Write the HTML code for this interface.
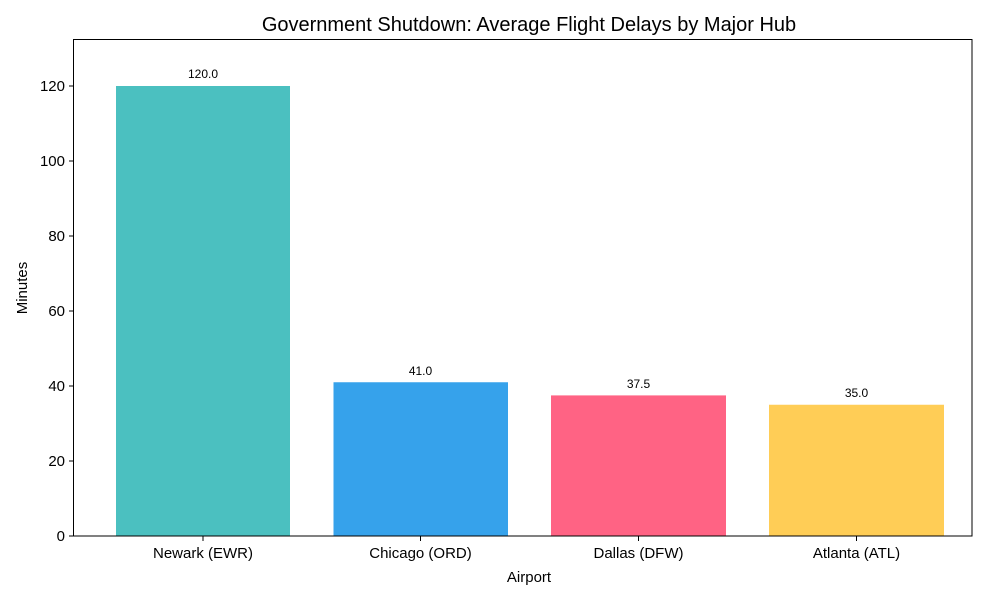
<!DOCTYPE html>
<html><head><meta charset="utf-8"><style>
body{margin:0;background:#fff;}
svg text{font-family:"Liberation Sans",sans-serif;fill:#000;}
</style></head><body>
<svg width="1000" height="600" xmlns="http://www.w3.org/2000/svg">
<rect width="1000" height="600" fill="#fff"/>
<text x="529" y="31" font-size="20" text-anchor="middle">Government Shutdown: Average Flight Delays by Major Hub</text>
<rect x="116" y="86" width="174" height="450" fill="#4BC0C0"/>
<rect x="333.5" y="382.25" width="174.5" height="153.75" fill="#36A2EB"/>
<rect x="551" y="395.4" width="175" height="140.6" fill="#FF6384"/>
<rect x="769" y="404.75" width="175" height="131.25" fill="#FFCD56"/>
<g font-size="12" text-anchor="middle">
<text x="203" y="78">120.0</text>
<text x="420.5" y="375">41.0</text>
<text x="638.5" y="388">37.5</text>
<text x="856.5" y="397">35.0</text>
</g>
<rect x="73.5" y="39.5" width="898.5" height="496.5" fill="none" stroke="#000" stroke-width="1"/>
<g stroke="#000" stroke-width="1">
<line x1="69" x2="73.5" y1="536" y2="536"/>
<line x1="69" x2="73.5" y1="461" y2="461"/>
<line x1="69" x2="73.5" y1="386" y2="386"/>
<line x1="69" x2="73.5" y1="311" y2="311"/>
<line x1="69" x2="73.5" y1="236" y2="236"/>
<line x1="69" x2="73.5" y1="161" y2="161"/>
<line x1="69" x2="73.5" y1="86" y2="86"/>
<line x1="203" x2="203" y1="536" y2="541"/>
<line x1="420.5" x2="420.5" y1="536" y2="541"/>
<line x1="638.5" x2="638.5" y1="536" y2="541"/>
<line x1="856.5" x2="856.5" y1="536" y2="541"/>
</g>
<g font-size="15" text-anchor="end">
<text x="65" y="541">0</text>
<text x="65" y="466">20</text>
<text x="65" y="391">40</text>
<text x="65" y="316">60</text>
<text x="65" y="241">80</text>
<text x="65" y="166">100</text>
<text x="65" y="91">120</text>
</g>
<g font-size="15" text-anchor="middle">
<text x="203" y="558">Newark (EWR)</text>
<text x="420.5" y="558">Chicago (ORD)</text>
<text x="638.5" y="558">Dallas (DFW)</text>
<text x="856.5" y="558">Atlanta (ATL)</text>
<text x="529" y="582">Airport</text>
<text transform="translate(27,288) rotate(-90)">Minutes</text>
</g>
</svg>
</body></html>
